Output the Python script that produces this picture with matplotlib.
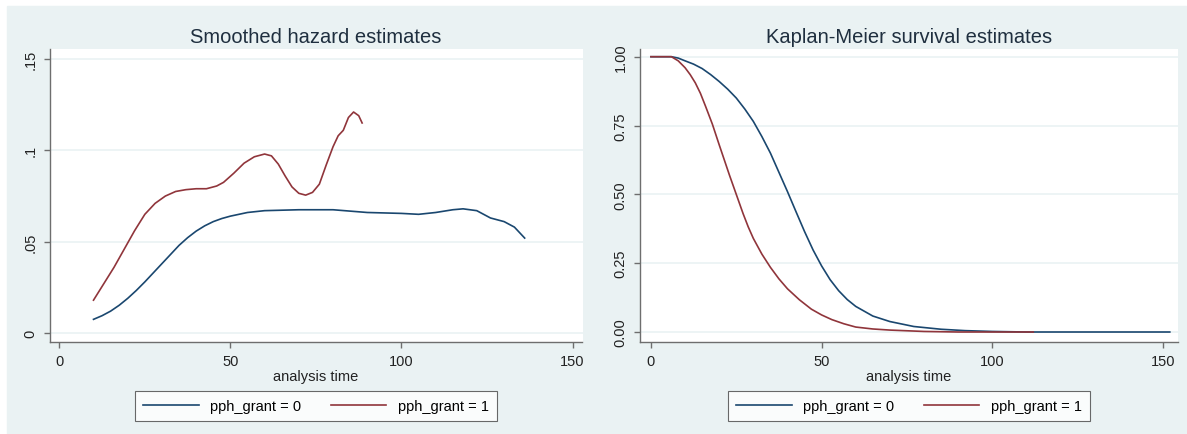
import matplotlib
matplotlib.use('Agg')
import matplotlib.pyplot as plt
from matplotlib.patches import Rectangle

plt.rcParams.update({
    'font.family': ['Liberation Sans', 'DejaVu Sans'],
    'font.size': 10.5,
})

NAVY = '#1a476f'
MAROON = '#90353b'
BG = '#eaf2f3'
AXC = '#6e6e6e'

# smoothed hazard, pph_grant = 0 / 1
haz_x0 = [10, 12.5, 15, 17.5, 20, 22.5, 25, 27.5, 30, 32.5, 35, 37.5, 40, 42.5,
          45, 47.5, 50, 55, 60, 70, 80, 90, 100, 105, 110, 115, 118, 122, 126,
          130, 133, 136]
haz_y0 = [.0075, .0095, .012, .0152, .019, .0233, .028, .033, .038, .043, .048,
          .0522, .0558, .0587, .061, .0627, .064, .066, .067, .0675, .0675,
          .066, .0655, .065, .066, .0675, .068, .067, .063, .061, .058, .052]
haz_x1 = [10, 13, 16, 19, 22, 25, 28, 31, 34, 37, 40, 43, 46, 48, 51, 54, 57,
          60, 62, 64, 66, 68, 70, 72, 74, 76, 78, 80, 81.5, 83, 84.5, 86, 87.5,
          88.5]
haz_y1 = [.018, .027, .036, .046, .056, .065, .071, .075, .0775, .0785, .079,
          .079, .0805, .0825, .0875, .093, .0965, .098, .097, .0925, .086, .080,
          .0765, .0755, .077, .0815, .092, .102, .108, .111, .118, .121, .119,
          .115]

# Kaplan-Meier survival, pph_grant = 0 / 1
km_x0 = [0, 6, 8, 10, 12.5, 15, 17.5, 20, 22.5, 25, 27.5, 30, 32.5, 35, 37.5,
         40, 42.5, 45, 47.5, 50, 52.5, 55, 57.5, 60, 65, 70, 77, 85, 92, 100,
         110, 152]
km_y0 = [1, 1, .995, .985, .973, .957, .935, .91, .882, .85, .81, .765, .71,
         .65, .58, .51, .437, .365, .298, .24, .19, .15, .118, .093, .058, .038,
         .02, .01, .005, .002, 0, 0]
km_x1 = [0, 6, 8, 10, 11.5, 13, 14.5, 16, 18, 20, 21.5, 23, 25, 27, 28.5, 30,
         32.5, 35, 37.5, 40, 43.5, 47, 50, 53, 56.5, 60, 65, 70, 80, 90, 112]
km_y1 = [1, 1, .985, .96, .935, .905, .867, .82, .755, .68, .625, .57, .5, .43,
         .382, .34, .283, .235, .193, .157, .117, .083, .062, .045, .03, .018,
         .011, .007, .002, 0, 0]

labels = ['pph_grant = 0', 'pph_grant = 1']

W, H = 1187, 435
fig = plt.figure(figsize=(W / 100, H / 100), dpi=100, facecolor='white')
fig.patches.append(Rectangle((7 / W, 0), 1, (H - 7) / H, transform=fig.transFigure,
                             color=BG, zorder=-1))


def panel(left_px, right_px, title):
    ax = fig.add_axes([left_px / W, (H - 343) / H, (right_px - left_px) / W, 293 / H])
    ax.set_facecolor('white')
    for s in ['top', 'right']:
        ax.spines[s].set_visible(False)
    for s in ['left', 'bottom']:
        ax.spines[s].set_color(AXC)
        ax.spines[s].set_linewidth(1.0)
    ax.tick_params(direction='out', length=4, width=1, color=AXC, pad=5,
                   labelsize=10.5, labelcolor='#222222')
    ax.tick_params(axis='y', labelrotation=90)
    ax.grid(axis='y', color=BG, lw=1.2)
    ax.set_axisbelow(True)
    ax.text(0.5, 1.044, title, transform=ax.transAxes, ha='center', va='center',
            fontsize=14.5, color='#1f2f3f')
    ax.text(0.5, -0.116, 'analysis time', transform=ax.transAxes, ha='center',
            va='center', fontsize=10.5, color='#222222')
    return ax


# left: smoothed hazard
ax1 = panel(49.7, 582.5, 'Smoothed hazard estimates')
ax1.plot(haz_x0, haz_y0, color=NAVY, lw=1.2, label=labels[0])
ax1.plot(haz_x1, haz_y1, color=MAROON, lw=1.2, label=labels[1])
ax1.set_xlim(-2.8, 152.9)
ax1.set_ylim(-0.0049, 0.1555)
ax1.set_xticks([0, 50, 100, 150])
ax1.set_yticks([0, .05, .1, .15])
ax1.set_yticklabels(['0', '.05', '.1', '.15'], va='center')

# right: Kaplan-Meier
ax2 = panel(640, 1178, 'Kaplan-Meier survival estimates')
ax2.plot(km_x0, km_y0, color=NAVY, lw=1.2, label=labels[0])
ax2.plot(km_x1, km_y1, color=MAROON, lw=1.2, label=labels[1])
ax2.set_xlim(-3.2, 154.4)
ax2.set_ylim(-0.0363, 1.028)
ax2.set_xticks([0, 50, 100, 150])
ax2.set_yticks([0, .25, .5, .75, 1])
ax2.set_yticklabels(['0.00', '0.25', '0.50', '0.75', '1.00'], va='center')

for ax in (ax1, ax2):
    leg = ax.legend(loc='upper center', bbox_to_anchor=(0.5, -0.167), ncol=2,
                    frameon=True, fancybox=False, fontsize=10.5,
                    handlelength=3.8, handletextpad=0.8, columnspacing=2.0,
                    borderpad=0.55, borderaxespad=0)
    leg.get_frame().set_edgecolor('#444444')
    leg.get_frame().set_linewidth(0.8)

fig.savefig('out.png', dpi=100, facecolor=fig.get_facecolor())
